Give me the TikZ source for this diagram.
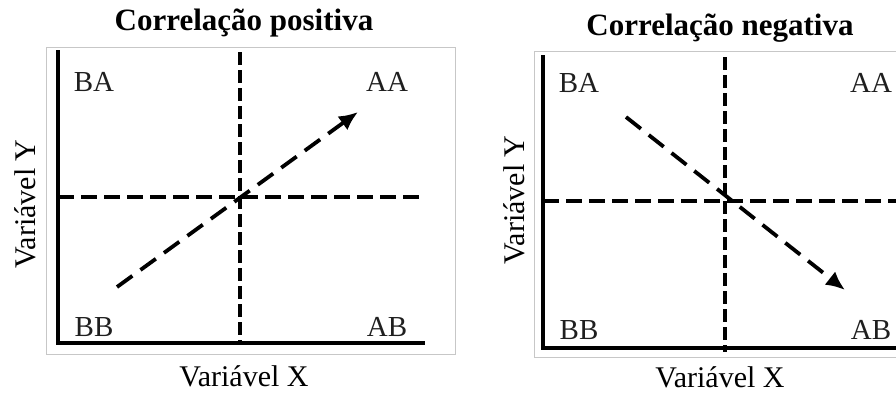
\documentclass[tikz,border=0pt]{standalone}
\usepackage{fontspec}
\setmainfont{Liberation Serif}
\usetikzlibrary{arrows.meta}
\begin{document}
\begin{tikzpicture}[x=1pt,y=-1pt,
  frame/.style={draw=black!22, line width=0.9pt},
  axisline/.style={line width=4.4pt, line cap=rect},
  hdash/.style={line width=3.6pt, dash pattern=on 16pt off 7pt},
  vdash/.style={line width=3.4pt, dash pattern=on 13pt off 5pt},
  trend/.style={line width=3.8pt, dash pattern=on 19pt off 10pt, -{Latex[length=19pt,width=17pt]}},
  ttl/.style={font=\fontsize{31}{31}\selectfont\bfseries, inner sep=0pt},
  quad/.style={font=\fontsize{29}{29}\selectfont, text=black!88, inner sep=0pt},
  axlabel/.style={font=\fontsize{30}{30}\selectfont, inner sep=0pt}]
\useasboundingbox (0,0) rectangle (896,394);
\fill[white] (0,0) rectangle (896,394);

% ---------- left panel ----------
\node[ttl] (t1) at (244,23) {Correlação positiva};
\draw[frame] (46,47) rectangle (455,354);
\coordinate (o1) at (58,343);
\coordinate (yt1) at (58,52);
\coordinate (xr1) at (423,343);
\coordinate (vt1) at (240,52);
\coordinate (vb1) at (240,343);
\coordinate (hl1) at (58,197);
\coordinate (hr1) at (423,197);
\coordinate (a1s) at (117,287);
\coordinate (a1e) at (358,112);
\draw[vdash] (vt1) -- (vb1);
\draw[hdash] (hl1) -- (hr1);
\draw[axisline] (yt1) -- (o1) -- (xr1);
\draw[trend] (a1s) -- (a1e);
\node[quad] (ba1) at (94,82) {BA};
\node[quad] (aa1) at (387,82) {AA};
\node[quad] (bb1) at (94,327) {BB};
\node[quad] (ab1) at (387,327) {AB};
\node[axlabel, rotate=90] (vy1) at (25,204) {Variável Y};
\node[axlabel] (vx1) at (244,376) {Variável X};

% ---------- right panel ----------
\node[ttl] (t2) at (720,28) {Correlação negativa};
\draw[frame] (534,51) -- (534,357);
\draw[frame] (534,51) -- (900,51);
\draw[frame] (534,357) -- (900,357);
\coordinate (o2) at (543,348);
\coordinate (yt2) at (543,57);
\coordinate (xr2) at (900,348);
\coordinate (vt2) at (725,57);
\coordinate (vb2) at (725,352);
\coordinate (hl2) at (543,201);
\coordinate (hr2) at (900,201);
\coordinate (a2s) at (626,117);
\coordinate (a2e) at (845,290);
\draw[vdash] (vt2) -- (vb2);
\draw[hdash] (hl2) -- (hr2);
\draw[axisline] (yt2) -- (o2) -- (xr2);
\draw[trend] (a2s) -- (a2e);
\node[quad] (ba2) at (579,83) {BA};
\node[quad] (aa2) at (871,83) {AA};
\node[quad] (bb2) at (579,330) {BB};
\node[quad] (ab2) at (871,330) {AB};
\node[axlabel, rotate=90] (vy2) at (514,200) {Variável Y};
\node[axlabel] (vx2) at (720,377) {Variável X};
\end{tikzpicture}
\end{document}
